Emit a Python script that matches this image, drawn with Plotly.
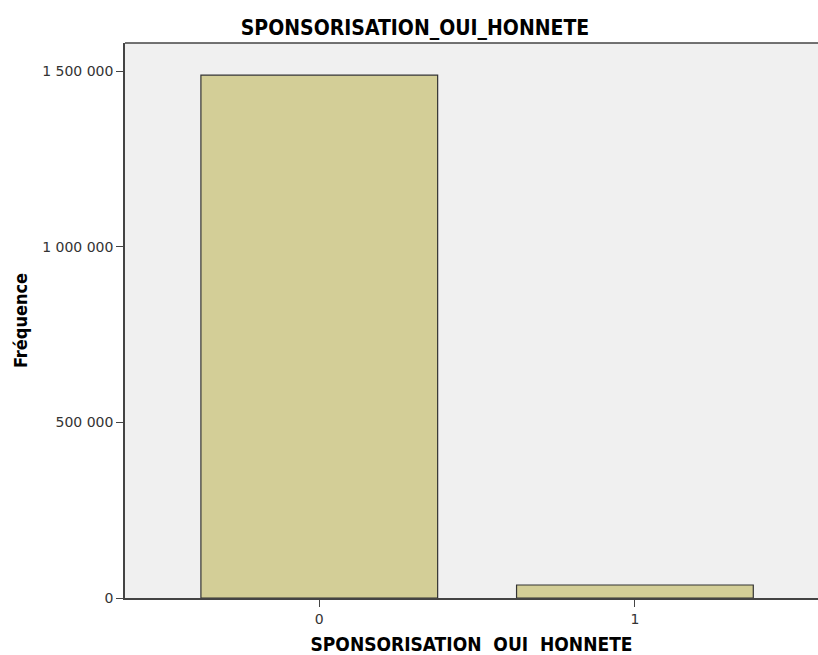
import plotly.graph_objects as go

categories = ["0", "1"]
frequencies = [1488000, 37000]
y_tickvals = [0, 500000, 1000000, 1500000]
y_ticktext = ["0", "500 000", "1 000 000", "1 500 000"]

title_font = "DejaVu Sans Condensed, Liberation Sans Narrow, sans-serif"
tick_font = "DejaVu Sans, sans-serif"

fig = go.Figure(go.Bar(
    x=[0, 1], y=frequencies, width=0.75,
    marker=dict(color="#d3ce97", line=dict(color="#333333", width=1.2)),
    hoverinfo="skip",
))

fig.update_layout(
    width=818, height=655,
    margin=dict(l=125, r=0, t=43, b=57, autoexpand=False),
    paper_bgcolor="white", plot_bgcolor="#f0f0f0",
    showlegend=False,
    title=dict(text="<b>SPONSORISATION_OUI_HONNETE</b>", x=415 / 818, xanchor="center",
               y=1 - 28 / 655, yanchor="middle",
               font=dict(family=title_font, size=21, color="black")),
    font=dict(family=tick_font, color="black"),
)

fig.update_xaxes(
    range=[-0.6155, 1.58], tickmode="array", tickvals=[0, 1], ticktext=categories,
    showgrid=False, zeroline=False, showline=True, linecolor="#444444", linewidth=1.5,
    mirror=False, ticks="outside", ticklen=7, tickcolor="#444444",
    tickfont=dict(size=14, family=tick_font, color="#333333"), automargin=False,
    ticklabelstandoff=0,
    title=dict(text="<b>SPONSORISATION  OUI  HONNETE</b>",
               font=dict(size=19, family=title_font), standoff=13),
)
fig.update_yaxes(
    range=[0, 1579700], tickmode="array", tickvals=y_tickvals, ticktext=y_ticktext,
    showgrid=False, zeroline=False, showline=True, linecolor="#444444", linewidth=1.5,
    ticks="outside", ticklen=7, tickcolor="#444444",
    tickfont=dict(size=14, family=tick_font, color="#333333"), automargin=False,
    ticklabelstandoff=0,
    title=dict(text="<b>Fréquence</b>", font=dict(size=18, family=title_font), standoff=10),
)

# top frame line
fig.add_shape(type="line", xref="paper", yref="paper", x0=0, x1=1, y0=1, y1=1,
              line=dict(color="#444444", width=1.5))

fig.write_html("out.html", config={"displayModeBar": False},
               post_script="document.body.style.margin='0';document.body.style.overflow='hidden';")
